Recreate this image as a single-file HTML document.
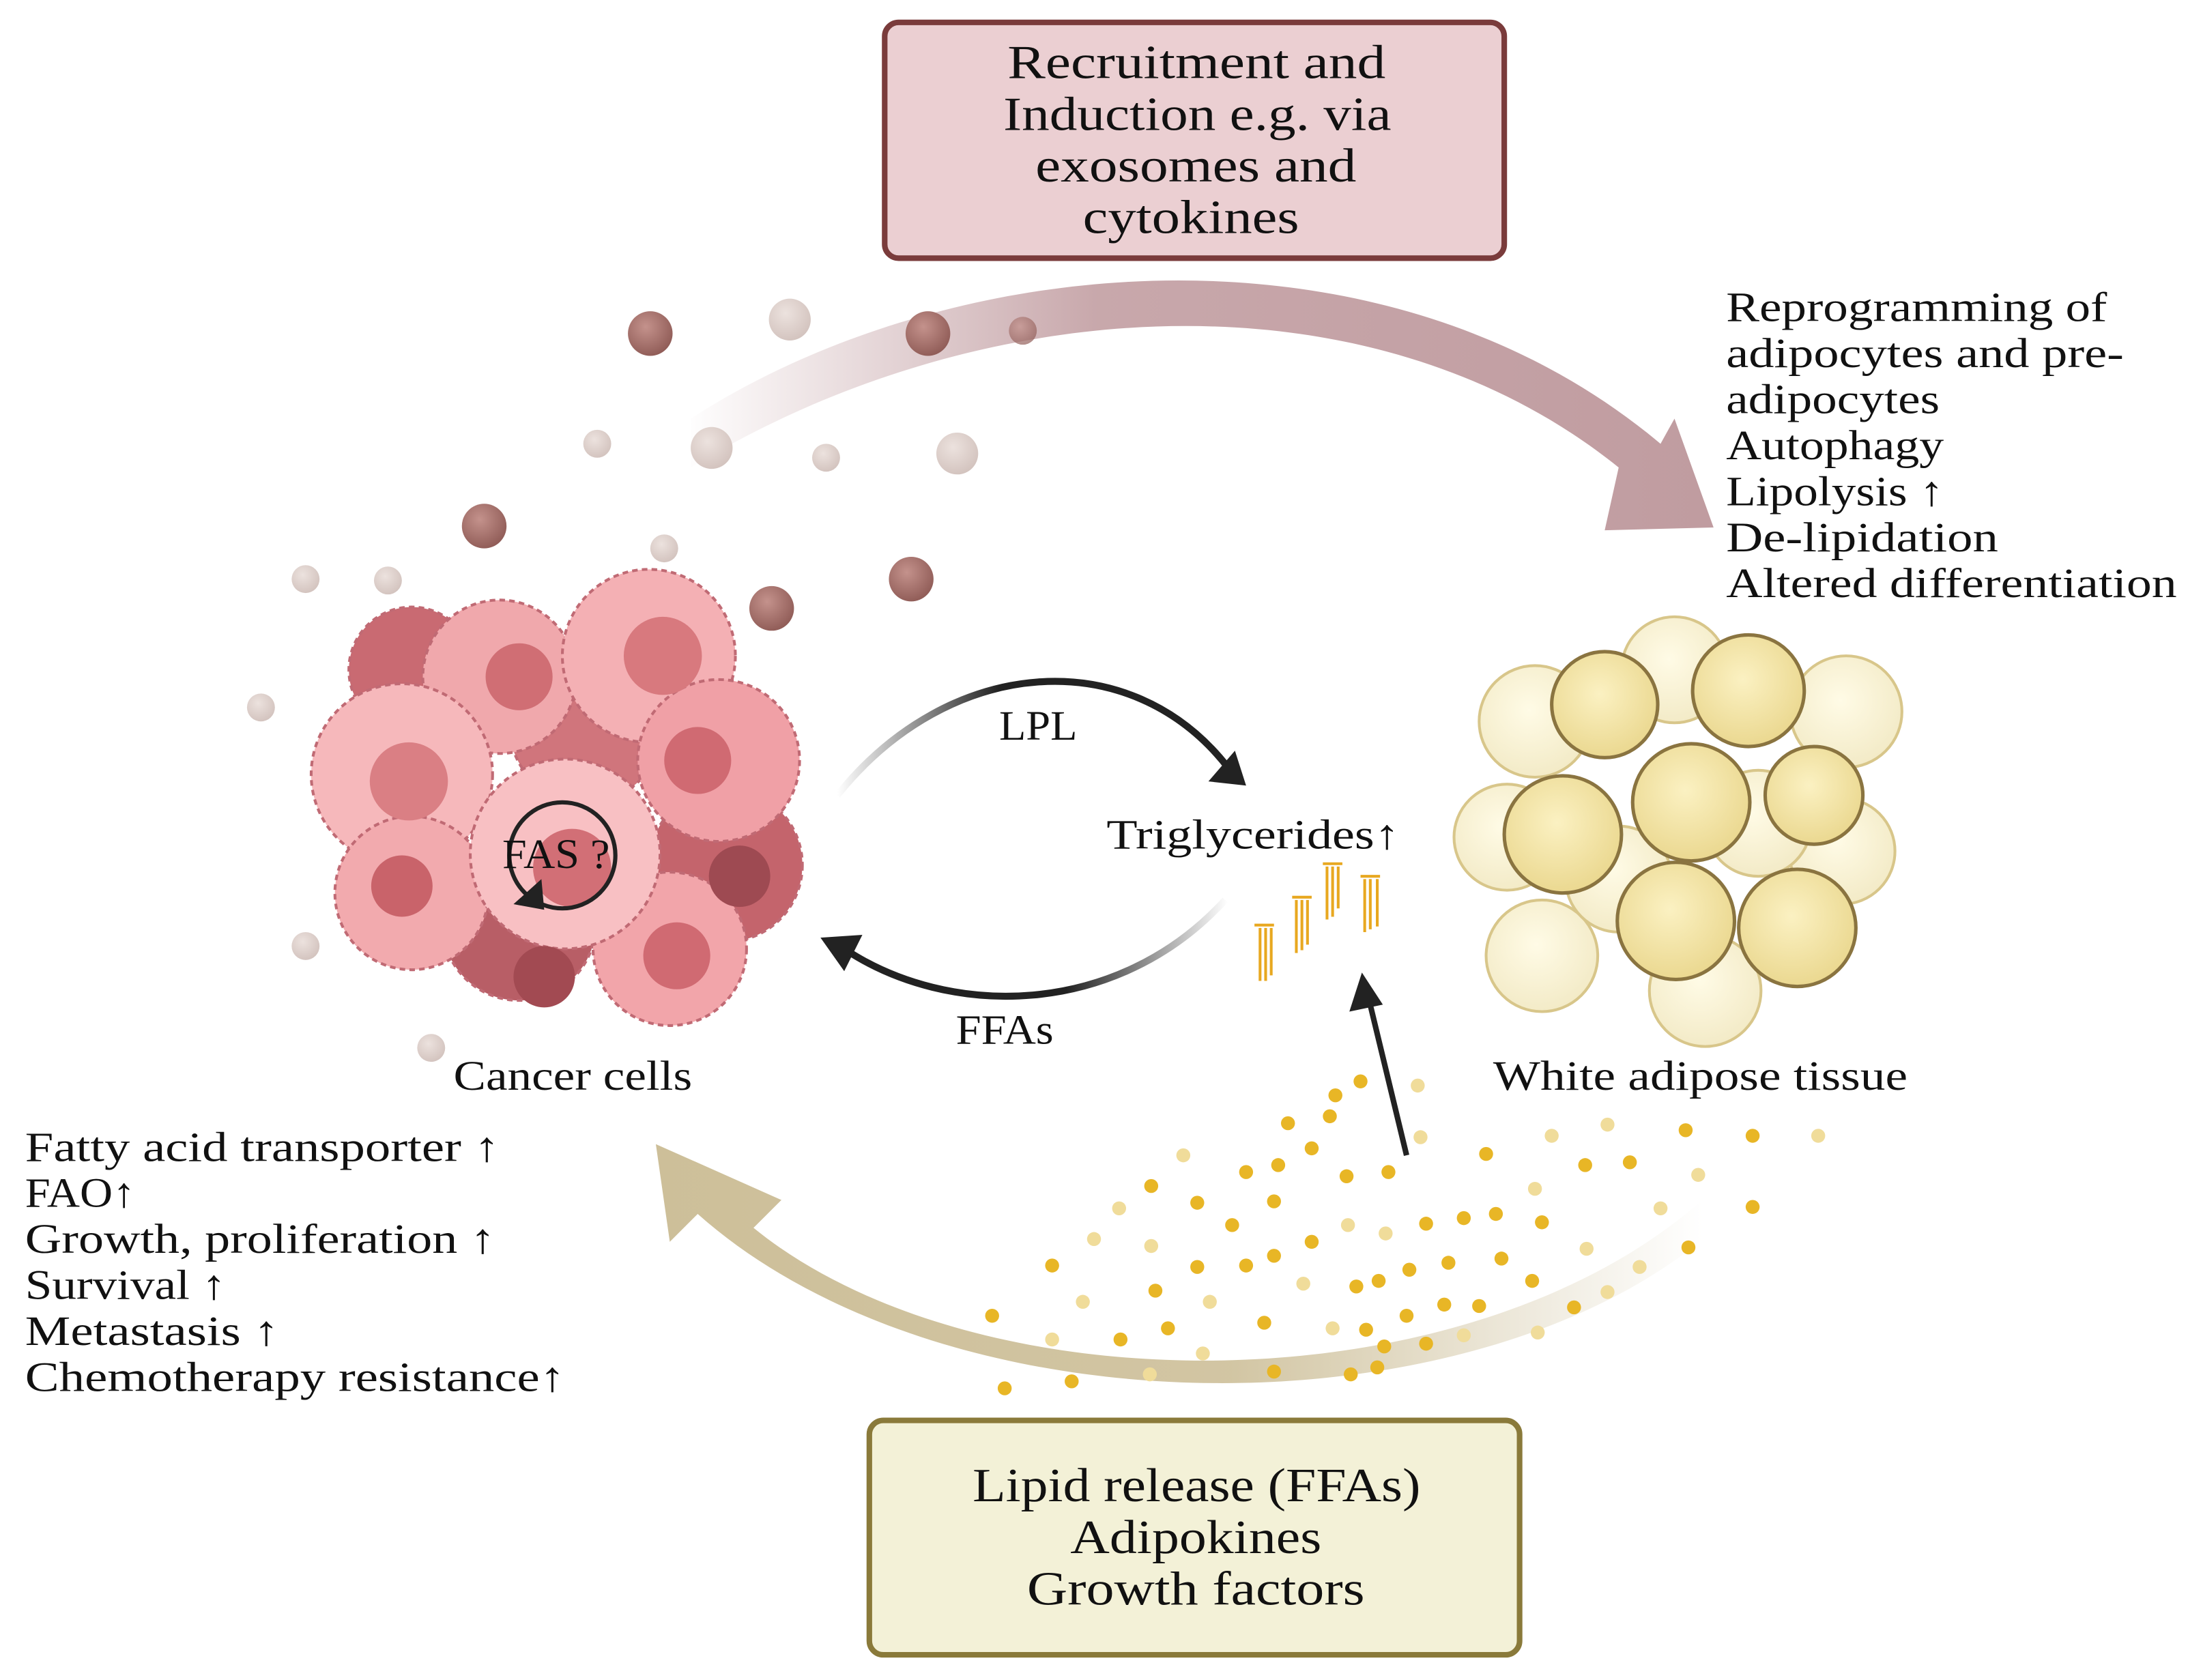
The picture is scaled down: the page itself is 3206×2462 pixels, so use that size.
<!DOCTYPE html>
<html><head><meta charset="utf-8"><style>
html,body{margin:0;padding:0;background:#fff}
svg{display:block}
text{font-family:"Liberation Serif",serif;fill:#111}
</style></head><body>
<svg width="3206" height="2462" viewBox="0 0 1568 1204" xmlns="http://www.w3.org/2000/svg">
<defs>
<linearGradient id="pg" x1="490" y1="0" x2="1230" y2="0" gradientUnits="userSpaceOnUse">
<stop offset="0" stop-color="#c29ea2" stop-opacity="0"/><stop offset="0.4" stop-color="#c29ea2" stop-opacity="0.9"/><stop offset="1" stop-color="#c09ca0"/></linearGradient>
<linearGradient id="tg" x1="1220" y1="0" x2="470" y2="0" gradientUnits="userSpaceOnUse">
<stop offset="0" stop-color="#cdbf99" stop-opacity="0"/><stop offset="0.45" stop-color="#cdbf99" stop-opacity="0.9"/><stop offset="1" stop-color="#cdbf99"/></linearGradient>
<linearGradient id="lg" x1="600" y1="0" x2="890" y2="0" gradientUnits="userSpaceOnUse">
<stop offset="0" stop-color="#222" stop-opacity="0"/><stop offset="0.4" stop-color="#222"/></linearGradient>
<linearGradient id="fg" x1="880" y1="0" x2="590" y2="0" gradientUnits="userSpaceOnUse">
<stop offset="0" stop-color="#222" stop-opacity="0"/><stop offset="0.4" stop-color="#222"/></linearGradient>
<radialGradient id="br" cx="0.4" cy="0.35" r="0.7"><stop offset="0" stop-color="#c4928c"/><stop offset="1" stop-color="#8e5a55"/></radialGradient>
<radialGradient id="lb" cx="0.4" cy="0.35" r="0.7"><stop offset="0" stop-color="#ece2de"/><stop offset="1" stop-color="#d2c2bd"/></radialGradient>
<radialGradient id="ad" cx="0.45" cy="0.4" r="0.7"><stop offset="0" stop-color="#fbf1c2"/><stop offset="1" stop-color="#e8d488"/></radialGradient>
<radialGradient id="ad2" cx="0.45" cy="0.4" r="0.7"><stop offset="0" stop-color="#fffbe6"/><stop offset="1" stop-color="#f1e8c2"/></radialGradient>
</defs>

<rect x="634" y="16" width="444" height="169" rx="10" fill="#ebcfd2" stroke="#7a3b3b" stroke-width="4"/>
<g font-size="34" lengthAdjust="spacingAndGlyphs">
<text x="722" y="56" textLength="271" lengthAdjust="spacingAndGlyphs">Recruitment and</text>
<text x="719" y="93" textLength="278" lengthAdjust="spacingAndGlyphs">Induction e.g. via</text>
<text x="742" y="130" textLength="230" lengthAdjust="spacingAndGlyphs">exosomes and</text>
<text x="776" y="167" textLength="155" lengthAdjust="spacingAndGlyphs">cytokines</text>
</g>

<path d="M495,335 C700,210 980,190 1160,335 L1150,380 L1228,378 L1200,300 L1190,318 C990,150 680,180 495,300 Z" fill="url(#pg)"/>

<g font-size="30">
<text x="1237" y="230" textLength="273" lengthAdjust="spacingAndGlyphs">Reprogramming of</text>
<text x="1237" y="263" textLength="285" lengthAdjust="spacingAndGlyphs">adipocytes and pre-</text>
<text x="1237" y="296" textLength="153" lengthAdjust="spacingAndGlyphs">adipocytes</text>
<text x="1237" y="329" textLength="156" lengthAdjust="spacingAndGlyphs">Autophagy</text>
<text x="1237" y="362" textLength="156" lengthAdjust="spacingAndGlyphs">Lipolysis ↑</text>
<text x="1237" y="395" textLength="195" lengthAdjust="spacingAndGlyphs">De-lipidation</text>
<text x="1237" y="428" textLength="323" lengthAdjust="spacingAndGlyphs">Altered differentiation</text>
</g>

<g>
<circle cx="466" cy="239" r="16" fill="url(#br)"/>
<circle cx="665" cy="239" r="16" fill="url(#br)"/>
<circle cx="347" cy="377" r="16" fill="url(#br)"/>
<circle cx="553" cy="436" r="16" fill="url(#br)"/>
<circle cx="653" cy="415" r="16" fill="url(#br)"/>
<circle cx="733" cy="237" r="10" fill="url(#br)" opacity="0.7"/>
<circle cx="566" cy="229" r="15" fill="url(#lb)"/>
<circle cx="510" cy="321" r="15" fill="url(#lb)"/>
<circle cx="686" cy="325" r="15" fill="url(#lb)"/>
<circle cx="428" cy="318" r="10" fill="url(#lb)"/>
<circle cx="592" cy="328" r="10" fill="url(#lb)"/>
<circle cx="476" cy="393" r="10" fill="url(#lb)"/>
<circle cx="219" cy="415" r="10" fill="url(#lb)"/>
<circle cx="278" cy="416" r="10" fill="url(#lb)"/>
<circle cx="187" cy="507" r="10" fill="url(#lb)"/>
<circle cx="219" cy="678" r="10" fill="url(#lb)"/>
<circle cx="309" cy="751" r="10" fill="url(#lb)"/>
</g>

<g stroke="#c06a74" stroke-width="2" stroke-dasharray="4 3">
<circle cx="295" cy="480" r="45" fill="#c96a72"/>
<circle cx="372" cy="662" r="55" fill="#b85e66"/>
<circle cx="520" cy="620" r="55" fill="#c4646c"/>
<circle cx="420" cy="520" r="55" fill="#d0757c"/>
<circle cx="358" cy="485" r="55" fill="#f0a8ac"/>
<circle cx="465" cy="470" r="62" fill="#f4b0b4"/>
<circle cx="515" cy="545" r="58" fill="#f0a0a6"/>
<circle cx="288" cy="555" r="65" fill="#f6b8bb"/>
<circle cx="295" cy="640" r="55" fill="#f2aaae"/>
<circle cx="480" cy="680" r="55" fill="#f2a5aa"/>
<circle cx="405" cy="612" r="68" fill="#f8c0c3"/>
</g>
<g>
<circle cx="372" cy="485" r="24" fill="#d06e74"/>
<circle cx="475" cy="470" r="28" fill="#d8797e"/>
<circle cx="500" cy="545" r="24" fill="#d06a72"/>
<circle cx="293" cy="560" r="28" fill="#da7f84"/>
<circle cx="288" cy="635" r="22" fill="#c9636a"/>
<circle cx="485" cy="685" r="24" fill="#d06a72"/>
<circle cx="530" cy="628" r="22" fill="#9e4a52"/>
<circle cx="390" cy="700" r="22" fill="#a24a52"/>
<circle cx="410" cy="622" r="28" fill="#d26f76"/>
</g>
<circle cx="403" cy="613" r="38" fill="none" stroke="#222" stroke-width="3"/>
<polygon points="368,648 388,630 390,652" fill="#222"/>
<text x="360" y="622" font-size="30" textLength="77" lengthAdjust="spacingAndGlyphs">FAS ?</text>
<text x="325" y="781" font-size="30" textLength="171" lengthAdjust="spacingAndGlyphs">Cancer cells</text>

<g stroke="#d8c68a" stroke-width="2">
<circle cx="1100" cy="517" r="40" fill="url(#ad2)"/>
<circle cx="1200" cy="480" r="38" fill="url(#ad2)"/>
<circle cx="1323" cy="510" r="40" fill="url(#ad2)"/>
<circle cx="1080" cy="600" r="38" fill="url(#ad2)"/>
<circle cx="1320" cy="610" r="38" fill="url(#ad2)"/>
<circle cx="1105" cy="685" r="40" fill="url(#ad2)"/>
<circle cx="1222" cy="710" r="40" fill="url(#ad2)"/>
<circle cx="1160" cy="630" r="38" fill="url(#ad2)"/>
<circle cx="1260" cy="590" r="38" fill="url(#ad2)"/>
</g>
<g stroke="#8a7440" stroke-width="2.5">
<circle cx="1150" cy="505" r="38" fill="url(#ad)"/>
<circle cx="1253" cy="495" r="40" fill="url(#ad)"/>
<circle cx="1212" cy="575" r="42" fill="url(#ad)"/>
<circle cx="1120" cy="598" r="42" fill="url(#ad)"/>
<circle cx="1300" cy="570" r="35" fill="url(#ad)"/>
<circle cx="1201" cy="660" r="42" fill="url(#ad)"/>
<circle cx="1288" cy="665" r="42" fill="url(#ad)"/>
</g>
<text x="1070" y="781" font-size="30" textLength="297" lengthAdjust="spacingAndGlyphs">White adipose tissue</text>

<path d="M600,570 C680,470 810,460 880,550" fill="none" stroke="url(#lg)" stroke-width="5"/>
<polygon points="893,563 866,560 885,538" fill="#222"/>
<text x="716" y="530" font-size="30" textLength="56" lengthAdjust="spacingAndGlyphs">LPL</text>
<text x="793" y="608" font-size="30" textLength="210" lengthAdjust="spacingAndGlyphs">Triglycerides↑</text>
<path d="M878,645 C800,730 680,730 605,680" fill="none" stroke="url(#fg)" stroke-width="5"/>
<polygon points="588,672 618,670 605,696" fill="#222"/>
<text x="685" y="748" font-size="30" textLength="70" lengthAdjust="spacingAndGlyphs">FFAs</text>

<g stroke="#e8a820" stroke-width="2" fill="none">
<path d="M899,663h14M903,665v38M907,665v38M911,665v34"/>
<path d="M926,643h14M929,645v38M933,645v36M937,645v32"/>
<path d="M948,619h14M951,621v38M955,621v36M959,621v30"/>
<path d="M975,628h14M978,630v38M982,630v36M987,630v34"/>
</g>
<line x1="1008" y1="828" x2="980" y2="712" stroke="#222" stroke-width="4"/>
<polygon points="976,697 967,725 991,720" fill="#222"/>

<path d="M1220,860 C1050,1010 700,1010 540,880 L560,860 L470,820 L480,890 L500,870 C680,1030 1060,1030 1230,880 Z" fill="url(#tg)"/>

<g fill="#e8b626">
<circle cx="975" cy="775" r="5"/><circle cx="957" cy="785" r="5"/><circle cx="953" cy="800" r="5"/><circle cx="923" cy="805" r="5"/><circle cx="940" cy="823" r="5"/><circle cx="965" cy="843" r="5"/><circle cx="995" cy="840" r="5"/><circle cx="825" cy="850" r="5"/><circle cx="858" cy="862" r="5"/><circle cx="893" cy="840" r="5"/><circle cx="916" cy="835" r="5"/><circle cx="913" cy="861" r="5"/><circle cx="883" cy="878" r="5"/><circle cx="940" cy="890" r="5"/><circle cx="858" cy="908" r="5"/><circle cx="893" cy="907" r="5"/><circle cx="913" cy="900" r="5"/><circle cx="1022" cy="877" r="5"/><circle cx="1049" cy="873" r="5"/><circle cx="1072" cy="870" r="5"/><circle cx="1105" cy="876" r="5"/><circle cx="1136" cy="835" r="5"/><circle cx="1168" cy="833" r="5"/><circle cx="1065" cy="827" r="5"/><circle cx="1208" cy="810" r="5"/><circle cx="1256" cy="814" r="5"/><circle cx="1256" cy="865" r="5"/><circle cx="1210" cy="894" r="5"/><circle cx="1038" cy="905" r="5"/><circle cx="1076" cy="902" r="5"/><circle cx="1010" cy="910" r="5"/><circle cx="1098" cy="918" r="5"/><circle cx="972" cy="922" r="5"/><circle cx="988" cy="918" r="5"/><circle cx="1060" cy="936" r="5"/><circle cx="1035" cy="935" r="5"/><circle cx="1008" cy="943" r="5"/><circle cx="979" cy="953" r="5"/><circle cx="992" cy="965" r="5"/><circle cx="1022" cy="963" r="5"/><circle cx="1128" cy="937" r="5"/><circle cx="828" cy="925" r="5"/><circle cx="754" cy="907" r="5"/><circle cx="711" cy="943" r="5"/><circle cx="837" cy="952" r="5"/><circle cx="803" cy="960" r="5"/><circle cx="906" cy="948" r="5"/><circle cx="768" cy="990" r="5"/><circle cx="720" cy="995" r="5"/><circle cx="913" cy="983" r="5"/><circle cx="968" cy="985" r="5"/><circle cx="987" cy="980" r="5"/>
</g>
<g fill="#f0dc9a">
<circle cx="1016" cy="778" r="5"/><circle cx="1018" cy="815" r="5"/><circle cx="848" cy="828" r="5"/><circle cx="802" cy="866" r="5"/><circle cx="784" cy="888" r="5"/><circle cx="825" cy="893" r="5"/><circle cx="966" cy="878" r="5"/><circle cx="993" cy="884" r="5"/><circle cx="1100" cy="852" r="5"/><circle cx="1112" cy="814" r="5"/><circle cx="1152" cy="806" r="5"/><circle cx="1217" cy="842" r="5"/><circle cx="1303" cy="814" r="5"/><circle cx="1190" cy="866" r="5"/><circle cx="1175" cy="908" r="5"/><circle cx="1137" cy="895" r="5"/><circle cx="1152" cy="926" r="5"/><circle cx="1102" cy="955" r="5"/><circle cx="1049" cy="957" r="5"/><circle cx="955" cy="952" r="5"/><circle cx="934" cy="920" r="5"/><circle cx="776" cy="933" r="5"/><circle cx="867" cy="933" r="5"/><circle cx="754" cy="960" r="5"/><circle cx="862" cy="970" r="5"/><circle cx="824" cy="985" r="5"/>
</g>

<g font-size="30">
<text x="18" y="832" textLength="340" lengthAdjust="spacingAndGlyphs">Fatty acid transporter ↑</text>
<text x="18" y="865" textLength="79" lengthAdjust="spacingAndGlyphs">FAO↑</text>
<text x="18" y="898" textLength="337" lengthAdjust="spacingAndGlyphs">Growth, proliferation ↑</text>
<text x="18" y="931" textLength="144" lengthAdjust="spacingAndGlyphs">Survival ↑</text>
<text x="18" y="964" textLength="182" lengthAdjust="spacingAndGlyphs">Metastasis ↑</text>
<text x="18" y="997" textLength="387" lengthAdjust="spacingAndGlyphs">Chemotherapy resistance↑</text>
</g>

<rect x="623" y="1018" width="466" height="168" rx="10" fill="#f3f1d7" stroke="#8a7a3a" stroke-width="4"/>
<g font-size="34">
<text x="697" y="1076" textLength="321" lengthAdjust="spacingAndGlyphs">Lipid release (FFAs)</text>
<text x="767" y="1113" textLength="180" lengthAdjust="spacingAndGlyphs">Adipokines</text>
<text x="736" y="1150" textLength="242" lengthAdjust="spacingAndGlyphs">Growth factors</text>
</g>
</svg>
</body></html>
